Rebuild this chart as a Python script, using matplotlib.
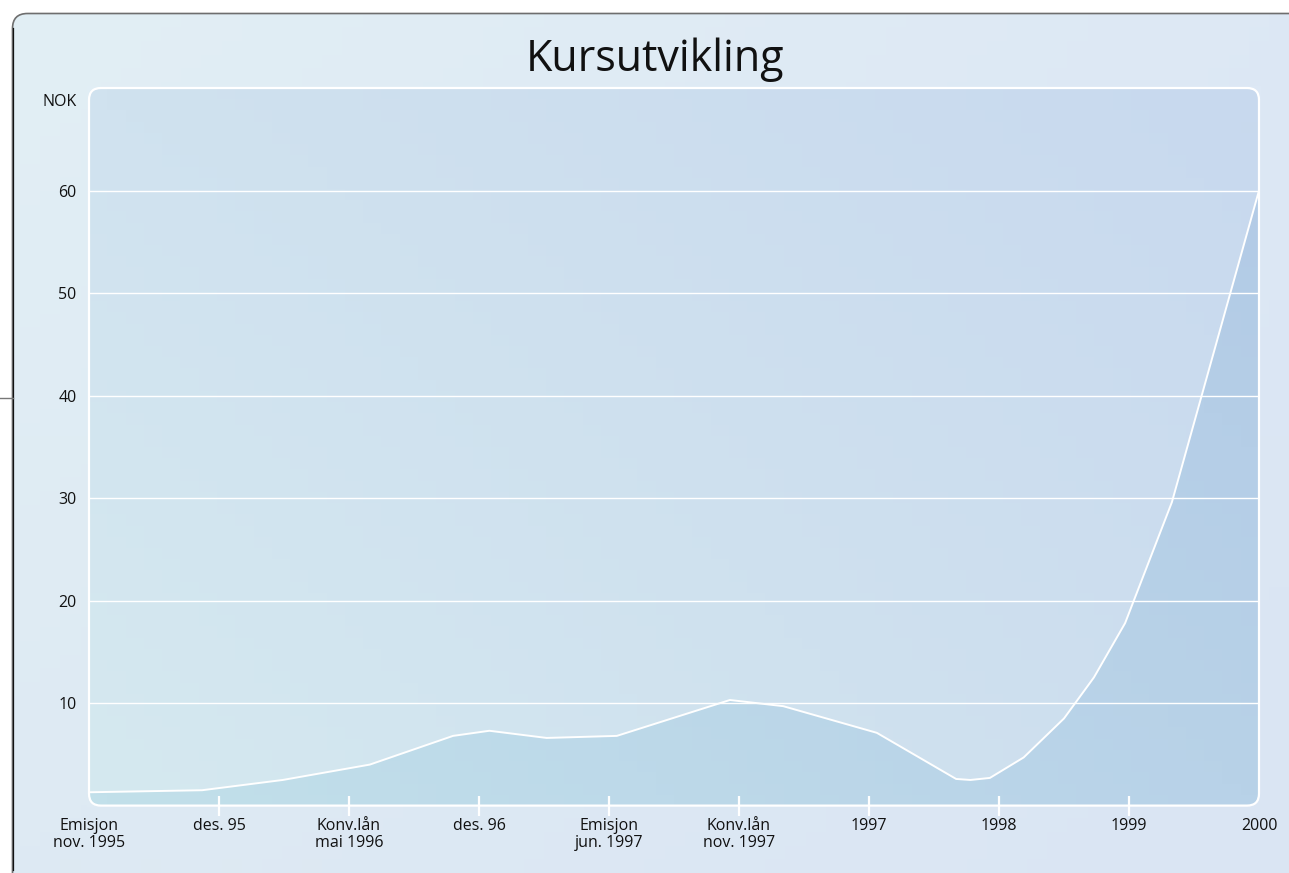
import numpy as np
import matplotlib.pyplot as plt
from matplotlib.patches import FancyBboxPatch, Polygon

plt.rcParams['font.family'] = ['Open Sans', 'DejaVu Sans']

# tick labels (equally spaced events along the x axis)
x_labels = ['Emisjon\nnov. 1995', 'des. 95', 'Konv.lån\nmai 1996', 'des. 96',
            'Emisjon\njun. 1997', 'Konv.lån\nnov. 1997', '1997', '1998', '1999', '2000']
# share price, position given in tick steps
kurs_pos = [0, 0.87, 1.49, 2.16, 2.80, 3.08, 3.52, 4.06, 4.93, 5.34, 6.06,
            6.67, 6.78, 6.93, 7.19, 7.50, 7.73, 7.97, 8.33, 9.0]
kurs_nok = [1.3, 1.5, 2.5, 4.0, 6.8, 7.3, 6.6, 6.8, 10.3, 9.7, 7.1,
            2.6, 2.5, 2.7, 4.7, 8.5, 12.5, 17.8, 29.6, 60.0]
y_ticks = [10, 20, 30, 40, 50, 60]

W, H = 1289, 873


def gradient(c_tl, c_tr, c_bl, c_br, n=64):
    """Bilinear colour ramp between four corner colours."""
    u = np.linspace(0, 1, n)
    U, V = np.meshgrid(u, u)
    c = [np.array(k) / 255 for k in (c_tl, c_tr, c_bl, c_br)]
    return (((1 - U) * (1 - V))[..., None] * c[0] + (U * (1 - V))[..., None] * c[1]
            + ((1 - U) * V)[..., None] * c[2] + (U * V)[..., None] * c[3])


outer_cols = ((226, 239, 245), (221, 232, 245), (222, 234, 243), (218, 229, 243))


def outer_color(px, py):
    u, v = px / W, py / H
    c = [np.array(k) / 255 for k in outer_cols]
    return (1-u)*(1-v)*c[0] + u*(1-v)*c[1] + (1-u)*v*c[2] + u*v*c[3]


fig = plt.figure(figsize=(W / 100, H / 100), dpi=100)
fig.patch.set_facecolor('white')

# outer panel
bg = fig.add_axes([0, 0, 1, 1])
panel = FancyBboxPatch((12.5, 13.5), W + 30, H + 30,
                       boxstyle='round,pad=0,rounding_size=15',
                       facecolor='none', edgecolor='#6e6e6e', lw=1.2)
bg.add_patch(panel)
im_bg = bg.imshow(gradient(*outer_cols), extent=(0, W, H, 0), origin='upper',
                  aspect='auto', zorder=0)
im_bg.set_clip_path(panel)
bg.plot([12.5, 12.5], [28, 870], color='#111111', lw=0.9)
bg.plot([0, 12.5], [398, 398], color='#777777', lw=1.0)
bg.set_xlim(0, W)
bg.set_ylim(H, 0)
bg.axis('off')

# plot area
x0, x1, ytop, ybot = 89, 1259, 88, 805.6
ax = fig.add_axes([x0 / W, (H - ybot) / H, (x1 - x0) / W, (ybot - ytop) / H])
ax.patch.set_visible(False)
ax.imshow(gradient((208, 226, 239), (200, 217, 238), (213, 233, 240), (205, 222, 238)),
          extent=(0, 9, 0, 70), origin='upper', aspect='auto', zorder=0)
poly = ax.fill_between(kurs_pos, kurs_nok, 0, facecolor='none', edgecolor='none')
im_fill = ax.imshow(gradient((186, 214, 234), (178, 202, 230), (194, 224, 234), (184, 210, 232)),
                    extent=(0, 9, 0, 70), origin='upper', aspect='auto', zorder=1)
im_fill.set_clip_path(poly.get_paths()[0], ax.transData)
ax.plot(kurs_pos, kurs_nok, color='white', lw=1.4, zorder=3)

ax.set_xlim(0, 9)
ax.set_ylim(0, 70)
for s in ax.spines.values():
    s.set_visible(False)
ax.set_yticks(y_ticks)
ax.yaxis.grid(True, color='white', lw=1.0)
ax.set_xticks(range(len(x_labels)), x_labels, linespacing=1.1)
ax.xaxis.remove_overlapping_locs = False
ax.set_xticks(range(1, len(x_labels) - 1), minor=True)
ax.tick_params(axis='x', which='major', length=0, pad=9, labelsize=11.5, labelcolor='#111111')
ax.tick_params(axis='x', which='minor', direction='inout', length=14, width=1.6,
               color='white')
ax.tick_params(axis='y', length=0, pad=9, labelsize=11.5, labelcolor='#111111')

# rounded frame of the plot area
ov = fig.add_axes([0, 0, 1, 1], zorder=5)
ov.patch.set_visible(False)
r = 12
for cx, cy, sx, sy in [(x0, ytop, 1, 1), (x1, ytop, -1, 1), (x0, ybot, 1, -1), (x1, ybot, -1, -1)]:
    t = np.linspace(0, np.pi / 2, 30)
    arc = np.column_stack([cx + sx * r - sx * r * np.sin(t), cy + sy * r - sy * r * np.cos(t)])
    pts = np.vstack([[cx - sx * 2, cy - sy * 2], [cx + sx * r, cy - sy * 2], arc, [cx - sx * 2, cy + sy * r]])
    ov.add_patch(Polygon(pts, closed=True, facecolor=outer_color(cx, cy), edgecolor='none'))
ov.add_patch(FancyBboxPatch((x0, ytop), x1 - x0, ybot - ytop,
                            boxstyle='round,pad=0,rounding_size=%d' % r,
                            facecolor='none', edgecolor='white', lw=1.6))
ov.set_xlim(0, W)
ov.set_ylim(H, 0)
ov.axis('off')

fig.text(655 / W, 1 - 71 / H, 'Kursutvikling', ha='center', va='baseline',
         fontsize=31, color='#111111')
fig.text(77 / W, 1 - 102 / H, 'NOK', ha='right', va='center', fontsize=11.5, color='#111111')

fig.savefig('out.png', dpi=100)
